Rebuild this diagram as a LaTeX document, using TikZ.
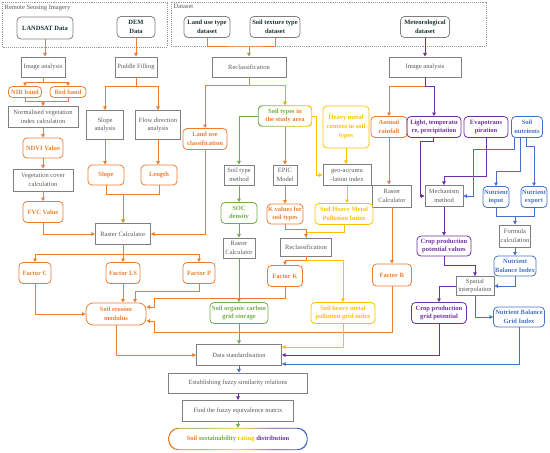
\documentclass[tikz,border=0pt]{standalone}
\usepackage{fontspec}
\setmainfont{Liberation Serif}
\usetikzlibrary{arrows.meta}
\definecolor{orangeC}{RGB}{237,125,49}
\definecolor{greenC}{RGB}{112,173,71}
\definecolor{yellowC}{RGB}{255,192,0}
\definecolor{purpleC}{RGB}{112,48,160}
\definecolor{blueC}{RGB}{68,114,196}
\definecolor{oliveC}{RGB}{160,160,60}
\definecolor{boxgray}{RGB}{128,128,128}
\definecolor{textgray}{RGB}{90,90,90}
\definecolor{datatext}{RGB}{25,50,50}
\pgfdeclarehorizontalshading{ratingshade}{100bp}{color(0bp)=(orangeC); color(25bp)=(orangeC); color(38bp)=(greenC); color(50bp)=(yellowC); color(63bp)=(purpleC); color(75bp)=(blueC); color(100bp)=(blueC)}
\begin{document}
\begin{tikzpicture}[x=1pt,y=-1pt]
    \tikzset{
        txt/.style={font=\fontsize{6.5}{8.8}\selectfont, align=center, inner sep=0.5pt},
        btxt/.style={txt, font=\fontsize{6.5}{8.8}\selectfont\bfseries},
        sz/.style 2 args={minimum width=#1, minimum height=#2},
        gbox/.style={txt, draw=boxgray, line width=0.9pt, text=textgray},
        dbox/.style={btxt, draw=boxgray, line width=0.8pt, rounded corners=4pt, text=datatext},
        cbox/.style={btxt, draw=#1, line width=0.8pt, rounded corners=4pt, text=#1},
        obox/.style={cbox=orangeC},
        grbox/.style={cbox=greenC},
        ybox/.style={cbox=yellowC},
        pbox/.style={cbox=purpleC},
        bbox/.style={cbox=blueC},
        frame/.style={draw=boxgray!80, densely dotted, line width=0.9pt},
        link/.style={line width=0.9pt, draw=#1},
        arr/.style={link=#1, -{Triangle[length=3.6pt,width=3.6pt]}}
    }
    \useasboundingbox (0,0) rectangle (550,453);

    \draw[frame] (2,2) rectangle (167,47);
    \draw[frame] (171,2) rectangle (486,46);
    \draw node[txt, anchor=north west, text=textgray] (rsLabel) at (4,4) {Remote Sensing Imagery};
    \draw node[txt, anchor=north west, text=textgray] (dsLabel) at (173,4) {Dataset};

    \draw node[dbox, sz={56}{22}] (landsat) at (45,28) {LANDSAT Data};
    \draw node[dbox, sz={38}{21}] (dem) at (136,27) {DEM\\Data};
    \draw node[dbox, sz={46}{21}] (landuse) at (207,27) {Land use type\\dataset};
    \draw node[dbox, sz={50}{21}] (soiltex) at (275,27) {Soil texture type\\dataset};
    \draw node[dbox, sz={49}{21}] (meteo) at (425,27) {Meteorological\\dataset};

    \draw node[gbox, sz={44}{20}] (imgL) at (43,67) {Image analysis};
    \draw node[gbox, sz={42}{20}] (puddle) at (136,67) {Puddle Filling};
    \draw node[gbox, sz={74}{20}] (reclassA) at (249,67) {Reclassification};
    \draw node[gbox, sz={72}{20}] (imgR) at (425,67) {Image analysis};

    \draw node[obox, sz={33}{11}] (nir) at (25,92) {NIR band};
    \draw node[obox, sz={36}{11}] (red) at (68,92) {Red band};
    \draw node[gbox, sz={70}{21}] (ndvicalc) at (43,117) {Normalised vegetation\\index calculation};
    \draw node[gbox, sz={37}{29}] (slopeA) at (105,125) {Slope\\analysis};
    \draw node[gbox, sz={45}{29}] (flowA) at (158,125) {Flow direction\\analysis};
    \draw node[obox, sz={44}{21}] (landcls) at (205,139) {Land use\\classification};
    \draw node[btxt, sz={54}{21}] (soiltypes) at (285,116) {\textcolor{greenC}{Soil types} \textcolor{orangeC}{in}\\\textcolor{orangeC}{the study area}};
    \draw node[ybox, sz={46}{42}] (heavy) at (346,127) {Heavy metal\\content in soil\\types};
    \draw node[obox, sz={36}{21}] (rain) at (389,127) {Annual\\rainfall};
    \draw node[pbox, sz={54}{21}] (light) at (434,127) {Light, temperatu\\re, precipitation};
    \draw node[pbox, sz={44}{21}] (evapo) at (486,127) {Evapotrans\\piration};
    \draw node[bbox, sz={31}{21}] (nutr) at (527,127) {Soil\\nutrients};

    \draw node[obox, sz={40}{20}] (ndvi) at (43,148) {NDVI Value};
    \draw node[gbox, sz={60}{22}] (vegcalc) at (43,180) {Vegetation cover\\calculation};
    \draw node[obox, sz={40}{21}] (fvc) at (43,212) {FVC Value};
    \draw node[obox, sz={36}{20}] (slope) at (106,175) {Slope};
    \draw node[obox, sz={36}{20}] (length) at (159,175) {Length};
    \draw node[gbox, sz={30}{20}] (soiltm) at (239,175) {Soil type\\method};
    \draw node[gbox, sz={24}{20}] (epic) at (285,175) {EPIC\\Model};
    \draw node[gbox, sz={48}{21}] (geo) at (347,175) {geo-accumu\\-lation index};
    \draw node[gbox, sz={39}{22}] (raster3) at (392,196) {Raster\\Calculator};
    \draw node[gbox, sz={38}{21}] (mech) at (444,196) {Mechanism\\method};
    \draw node[bbox, sz={26}{21}] (input) at (496,197) {Nutrient\\input};
    \draw node[bbox, sz={26}{21}] (export) at (534,197) {Nutrient\\export};

    \draw node[grbox, sz={36}{21}] (socd) at (239,213) {SOC\\density};
    \draw node[obox, sz={36}{20}] (kval) at (285,214) {K values for\\soil types};
    \draw node[ybox, sz={58}{21}] (shmpi) at (344,214) {Soil Heavy Metal\\Pollution Index};
    \draw node[gbox, sz={55}{21}] (raster1) at (123,234) {Raster Calculator};
    \draw node[gbox, sz={31}{22}] (formula) at (515,236) {Formula\\calculation};
    \draw node[pbox, sz={54}{20}] (croppot) at (444,246) {Crop production\\potential values};
    \draw node[gbox, sz={32}{20}] (raster2) at (239,248) {Raster\\Calculator};
    \draw node[gbox, sz={51}{18}] (reclassB) at (306,247) {Reclassification};
    \draw node[bbox, sz={42}{20}] (nbi) at (515,266) {Nutrient\\Balance Index};

    \draw node[obox, sz={32}{21}] (factC) at (35,273) {Factor C};
    \draw node[obox, sz={34}{21}] (factLS) at (123,273) {Factor LS};
    \draw node[obox, sz={32}{21}] (factP) at (199,273) {Factor P};
    \draw node[obox, sz={35}{21}] (factK) at (285,276) {Factor K};
    \draw node[obox, sz={39}{22}] (factR) at (392,275) {Factor R};
    \draw node[gbox, sz={38}{19}] (spatial) at (475,286) {Spatial\\interpolation};

    \draw node[obox, rounded corners=7pt, sz={60}{22}] (soilero) at (116,314) {Soil erosion\\modulus};
    \draw node[grbox, sz={58}{21}] (socgrid) at (239,313) {Soil organic carbon\\grid storage};
    \draw node[ybox, sz={64}{21}] (shmgrid) at (343,313) {Soil heavy metal\\pollution grid index};
    \draw node[pbox, sz={55}{21}] (cropgrid) at (439,313) {Crop production\\grid potential};
    \draw node[bbox, sz={51}{20}] (nbgi) at (519,317) {Nutrient Balance\\Grid Index};

    \draw node[gbox, sz={85}{21}] (datastd) at (239,355) {Data standardisation};
    \draw node[gbox, sz={139}{20}] (estab) at (238,383) {Establishing fuzzy similarity relations};
    \draw node[gbox, sz={111}{21}] (findm) at (238,411) {Find the fuzzy equivalence matrix};
    \draw node[btxt, sz={139}{22}] (rating) at (238,439) {\textcolor{orangeC}{Soil} \textcolor{greenC}{sustainability} \textcolor{yellowC}{rating} \textcolor{purpleC}{distribution}};

    \shade[left color=greenC, right color=yellowC, even odd rule, rounded corners=4pt] (soiltypes.south west) rectangle (soiltypes.north east) ([shift={(0.8pt,0.8pt)}]soiltypes.south west) rectangle ([shift={(-0.8pt,-0.8pt)}]soiltypes.north east);
    \shade[shading=ratingshade, even odd rule, rounded corners=10pt] (rating.south west) rectangle (rating.north east) ([shift={(0.9pt,0.9pt)}]rating.south west) rectangle ([shift={(-0.9pt,-0.9pt)}]rating.north east);

    \foreach \x/\y/\z in {%
        landsat/imgL/orangeC, dem/puddle/orangeC, meteo/imgR/purpleC,
        ndvicalc/ndvi/orangeC, ndvi/vegcalc/orangeC, vegcalc/fvc/orangeC,
        slopeA/slope/orangeC, flowA/length/orangeC, raster1/factLS/orangeC,
        soiltypes/epic/orangeC, heavy/geo/yellowC, epic/kval/orangeC, geo/shmpi/yellowC,
        soiltm/socd/greenC, socd/raster2/greenC, raster2/socgrid/greenC, socgrid/datastd/greenC,
        rain/raster3/orangeC, raster3/factR/orangeC, mech/croppot/purpleC, formula/nbi/blueC,
        datastd/estab/blueC, estab/findm/purpleC, findm/rating/greenC%
    }{
        \draw[arr=\z] (\x.south) -- (\x.south |- \y.north);
    }

    \draw[link=orangeC] (landuse.south) |- (249,46) coordinate (jTop) -| (soiltex.south);
    \draw[arr=oliveC] (jTop) -- (reclassA.north);
    \draw[link=oliveC] (reclassA.south) -- ++(0,8) coordinate (jRA);
    \draw[arr=orangeC] (jRA) -| (landcls.north);
    \draw[arr=yellowC!60!orangeC] (jRA) -| (soiltypes.north);

    \draw[link=orangeC] (imgL.south) -- ++(0,5) coordinate (jIL);
    \draw[arr=orangeC] (jIL) -| (nir.north);
    \draw[arr=orangeC] (jIL) -| (red.north);
    \draw[link=orangeC] (nir.south) -- ++(0,4) coordinate (jNR) -| (red.south);
    \draw[arr=orangeC] (jNR -| ndvicalc.north) -- (ndvicalc.north);
    \draw[link=orangeC] (puddle.south) -- ++(0,9) coordinate (jPF);
    \draw[arr=orangeC] (jPF) -| (slopeA.north);
    \draw[arr=orangeC] (jPF) -| (flowA.north);
    \draw[link=orangeC] (slope.south) -- ++(0,9) coordinate (jSL) -| (length.south);
    \draw[arr=orangeC] (jSL -| raster1.north) -- (raster1.north);
    \draw[arr=orangeC] (fvc.south) |- (raster1.west);
    \draw[arr=orangeC] (landcls.south) |- (raster1.east);
    \draw[link=orangeC] (raster1.south) -- ++(0,9) coordinate (jR1);
    \draw[arr=orangeC] (jR1) -| (factC.north);
    \draw[arr=orangeC] (jR1) -| (factP.north);

    \draw[arr=orangeC] (factC.south) |- (soilero.west);
    \draw[arr=orangeC] (factLS.south) -- (factLS.south |- soilero.north);
    \draw[arr=orangeC] (factP.south) -- ++(0,8) -| ([xshift=19pt]soilero.north);
    \draw[arr=orangeC] (factK.south) -- ++(0,12) -| ([xshift=8pt,yshift=7pt]soilero.east) -- ([yshift=7pt]soilero.east);
    \draw[arr=orangeC] (factR.south) |- ([xshift=8pt,yshift=-18pt]soilero.east) -- ([xshift=8pt,yshift=-7pt]soilero.east) -- ([yshift=-7pt]soilero.east);
    \draw[arr=orangeC] (soilero.south) |- (datastd.west);

    \draw[arr=greenC] (soiltypes.west) -| (soiltm.north);
    \draw[arr=yellowC] (soiltypes.east) -- ++(4,0) |- (geo.west);
    \draw[link=yellowC] (shmpi.south) -- ++(0,8) -| (reclassB.north);
    \draw[arr=orangeC] (kval.south) -- ++(0,5) -| (reclassB.north);
    \draw[link=orangeC] (reclassB.south) -- ++(0,4) coordinate (jRB);
    \draw[arr=orangeC] (jRB) -| (factK.north);
    \draw[arr=yellowC] (jRB) -| (shmgrid.north);
    \draw[arr=yellowC] (shmgrid.south) |- ([yshift=8pt]datastd.east);
    \draw[arr=purpleC] (cropgrid.south) |- (datastd.east);
    \draw[arr=blueC] (nbgi.south) |- ([yshift=-9pt]datastd.east);

    \draw[link=purpleC] (imgR.south) -- ++(0,9) coordinate (jIR);
    \draw[arr=orangeC] (jIR) -| (rain.north);
    \draw[arr=purpleC] (jIR) -| (light.north);
    \draw[arr=purpleC] ([xshift=-1pt]light.south) -- ++(0,4) -| ([xshift=-4pt]mech.west) -- (mech.west);
    \draw[arr=purpleC] (evapo.south) -- ++(0,39) -| (mech.north);
    \draw[arr=blueC] ([xshift=3pt]nutr.south west) -- ++(0,12) -| ([xshift=10pt]mech.east) -- (mech.east);
    \draw[arr=blueC] ([xshift=9pt]nutr.south west) -- ++(0,34) -| (input.north);
    \draw[arr=blueC] ([xshift=-1pt]nutr.south) -- ++(0,9) -| (export.north);
    \draw[link=blueC] (input.south) -- ++(0,9) coordinate (jNF) -| (export.south);
    \draw[arr=blueC] (jNF -| formula.north) -- (formula.north);
    \draw[arr=blueC] (nbi.south) |- (spatial.east);
    \draw[arr=purpleC] (croppot.south) -- ++(0,9) -| (spatial.north);
    \draw[arr=purpleC] (spatial.west) -| (cropgrid.north);
    \draw[arr=blueC] (spatial.south) |- (nbgi.west);
\end{tikzpicture}
\end{document}
